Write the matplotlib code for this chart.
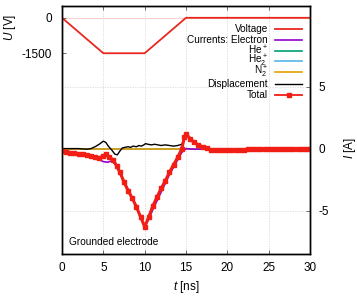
import matplotlib
matplotlib.use("Agg")
import matplotlib.pyplot as plt
from matplotlib.lines import Line2D

plt.rcParams['font.family'] = ['Liberation Sans', 'DejaVu Sans']
plt.rcParams['mathtext.fontset'] = 'custom'
plt.rcParams['mathtext.rm'] = 'Liberation Sans'
plt.rcParams['mathtext.it'] = 'Liberation Sans:italic'

# ---- data ----
t_volt = [0, 5, 10, 15, 30]
voltage = [0, -1500, -1500, 0, 0]

t_total = [0, 0.5, 1, 1.5, 2, 2.5, 3, 3.5, 4, 4.5, 5, 5.3, 5.7, 6.2, 6.6, 7, 7.5, 8, 8.5, 9, 9.5,
           10, 10.5, 11, 11.5, 12, 12.5, 13, 13.5, 14, 14.5, 14.8, 15, 15.5, 16, 16.5, 17, 17.5,
           18, 18.5, 19, 19.5, 20, 20.5, 21, 21.5, 22, 22.5, 23, 23.5, 24, 24.5, 25, 25.5, 26,
           26.5, 27, 27.5, 28, 28.5, 29, 29.5, 30]
total = [-0.2, -0.3, -0.35, -0.38, -0.4, -0.45, -0.5, -0.57, -0.65, -0.75, -0.6, -0.45, -0.7, -0.9,
         -1.4, -1.9, -2.7, -3.4, -4.0, -4.7, -5.5,
         -6.3, -5.5, -4.6, -3.9, -3.2, -2.6, -1.9, -1.3, -0.7, 0.0, 0.9, 1.2, 0.8, 0.5, 0.3, 0.15, 0.05,
         -0.1, -0.15, -0.15, -0.13, -0.12, -0.11, -0.1, -0.09, -0.08, -0.07, -0.07, -0.06, -0.05,
         -0.05, -0.04, -0.04, -0.03, -0.03, -0.03, -0.03, -0.02, -0.02, -0.02, -0.02, -0.02]

t_elec = [0, 1, 2, 3, 4, 4.5, 5, 5.5, 6, 6.5, 7, 7.5, 8, 8.5, 9, 9.5, 10, 10.5, 11, 11.5, 12, 12.5,
          13, 13.5, 14, 14.5, 15, 16, 20, 30]
electron = [-0.15, -0.25, -0.35, -0.45, -0.7, -0.9, -1.05, -1.1, -1.0, -1.3, -1.9, -2.6, -3.3, -4.0,
            -4.7, -5.5, -6.3, -5.7, -4.9, -4.2, -3.5, -2.8, -2.1, -1.5, -0.9, -0.3, 0.0, -0.05, -0.03, -0.02]

t_ion = [0, 30]
he_plus = [0, 0]
he2_plus = [0, 0]
n2_plus = [0, 0]

t_disp = [0, 1, 2, 3, 3.5, 4, 4.5, 5, 5.3, 5.6, 6, 6.4, 6.7, 7, 7.3, 7.6, 8, 8.3, 8.6, 9, 9.3, 9.6,
          9.9, 10.1, 10.4, 10.8, 11.2, 11.6, 12, 12.5, 13, 13.5, 14, 14.5, 14.8, 15, 15.5, 16, 17,
          18, 20, 30]
displacement = [0, 0, 0, -0.05, 0.0, 0.15, 0.35, 0.6, 0.5, 0.2, -0.1, -0.45, -0.5, -0.2, 0.05, 0.1,
                0.15, 0.1, 0.2, 0.15, 0.25, 0.2, 0.3, 0.4, 0.35, 0.3, 0.35, 0.3, 0.25, 0.3, 0.25, 0.2,
                0.25, 0.35, 0.8, 1.15, 0.8, 0.5, 0.15, -0.05, -0.05, 0]

x_ticks = [0, 5, 10, 15, 20, 25, 30]
v_ticks = [0, -1500]
i_ticks = [-5, 0, 5]

# ---- figure ----
W, H = 357, 297
fig = plt.figure(figsize=(W / 100, H / 100), dpi=100)
L, R, T, B = 62, 310, 6, 254
ax = fig.add_axes([L / W, 1 - B / H, (R - L) / W, (B - T) / H])
ax2 = ax.twinx()

# grid
for xv in x_ticks[1:-1]:
    ax.axvline(xv, color='#d8d8d8', lw=0.6, ls=(0, (1.5, 1.5)), zorder=0)
for iv in i_ticks:
    ax2.axhline(iv, color='#d8d8d8', lw=0.6, ls=(0, (1.5, 1.5)), zorder=0)
ax.axhline(0, color='#ffd0d0', lw=0.8, zorder=0)

hv, = ax.plot(t_volt, voltage, color='#e8281e', lw=1.3, label='Voltage')
ax.set_xlim(0, 30)
ax.set_ylim(-10000, 500)
ax.set_yticks(v_ticks)
ax.set_xticks(x_ticks)

h_he, = ax2.plot(t_ion, he_plus, color='#009e73', lw=1.2, label='He$^+$')
h_he2, = ax2.plot(t_ion, he2_plus, color='#56b4e9', lw=1.2, label='He$_2^+$')
h_n2, = ax2.plot(t_ion, n2_plus, color='#e69f00', lw=1.2, label='N$_2^+$')
h_el, = ax2.plot(t_elec, electron, color='#9400d3', lw=1.2, label='Currents: Electron')
h_d, = ax2.plot(t_disp, displacement, color='black', lw=1.0, label='Displacement')
h_tot, = ax2.plot(t_total, total, color='#f01e14', lw=2.2, marker='s', ms=3.5,
                  mec='#f01e14', mfc='#f01e14', label='Total')
ax2.set_ylim(-8.5, 11.5)
ax2.set_yticks(i_ticks)

for a in (ax, ax2):
    a.tick_params(direction='in', length=3, width=0.6, labelsize=8.5, color='#555555')
    for s in a.spines.values():
        s.set_linewidth(1.0)
ax.tick_params(axis='x', top=True, pad=6)
ax.tick_params(axis='y', pad=7)
ax2.tick_params(axis='y', pad=6)
ax.set_yticklabels(['0', '-1500'])
ax2.set_yticklabels(['-5', '0', '5'])

fig.text(10 / W, 1 - 27 / H, '$U$ [V]', rotation=90, ha='center', va='center', fontsize=8.5)
fig.text(350 / W, 1 - 148 / H, '$I$ [A]', rotation=90, ha='center', va='center', fontsize=8.5)
fig.text(186 / W, 1 - 287 / H, '$t$ [ns]', ha='center', va='center', fontsize=8.5)

ax.text(0.028, 0.048, 'Grounded electrode', transform=ax.transAxes, fontsize=7.3,
        ha='left', va='center')

# legend (gnuplot style: right-aligned labels, samples on the right)
handles = [hv, h_el, h_he, h_he2, h_n2, h_d, h_tot]
rows_px = [29, 40, 50.5, 61, 72, 84, 95]
tx = (268 - L) / (R - L)
lx0 = (275 - L) / (R - L)
lx1 = (302 - L) / (R - L)
for h, py in zip(handles, rows_px):
    yy = (B - py) / (B - T)
    ax2.text(tx, yy, h.get_label(), transform=ax2.transAxes, ha='right', va='center',
             fontsize=7.2)
    ln = Line2D([lx0, lx1], [yy, yy], transform=ax2.transAxes, color=h.get_color(),
                lw=min(h.get_linewidth(), 1.3))
    ax2.add_line(ln)
    if h.get_marker() not in (None, 'None', ''):
        ax2.add_line(Line2D([(lx0 + lx1) / 2], [yy], transform=ax2.transAxes, marker='s',
                            ms=3.5, color=h.get_color(), ls='none'))

fig.savefig('out.png', dpi=100)
